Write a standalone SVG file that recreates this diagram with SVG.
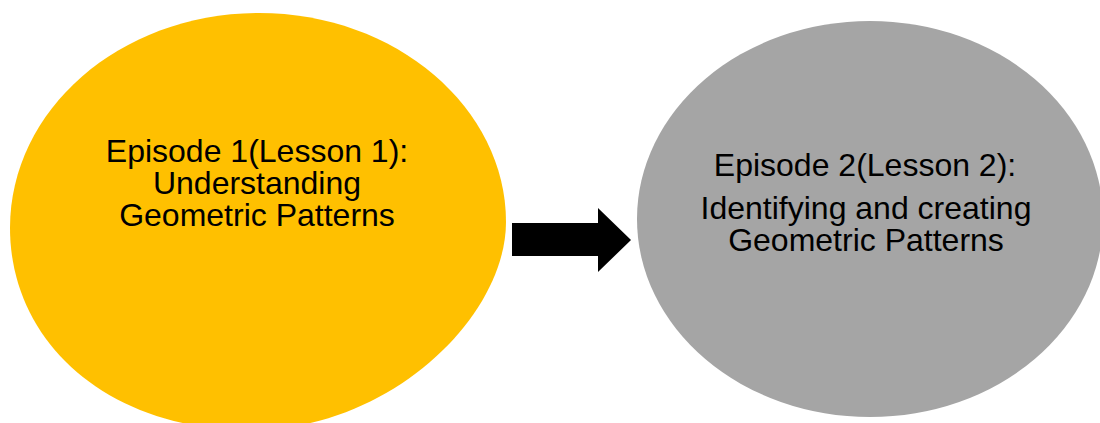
<svg xmlns="http://www.w3.org/2000/svg" width="1100" height="423" viewBox="0 0 1100 423">
<style>
.lbl{font-family:"Liberation Sans",Arial,sans-serif;font-size:32px;fill:#000;text-anchor:middle}
</style>
<rect width="1100" height="423" fill="#fff"/>
<g id="node1">
<path d="M259,13 C396,13 506,108 506,222 C506,316 391,430 250,430 C105,430 10,340 10,228 C10,109 121,13 259,13 Z" fill="#FFC000"/>
<text class="lbl" x="257" y="162">Episode 1(Lesson 1):</text>
<text class="lbl" x="257" y="194">Understanding</text>
<text class="lbl" x="257" y="226">Geometric Patterns</text>
</g>
<g id="node2">
<ellipse cx="870" cy="219" rx="233" ry="198" fill="#A5A5A5"/>
<text class="lbl" x="865" y="176">Episode 2(Lesson 2):</text>
<text class="lbl" x="866" y="219">Identifying and creating</text>
<text class="lbl" x="866" y="251">Geometric Patterns</text>
</g>
<g id="connectors">
<polygon points="512,223 598,223 598,208 631,240 598,272 598,256 512,256" fill="#000"/>
</g>
</svg>
